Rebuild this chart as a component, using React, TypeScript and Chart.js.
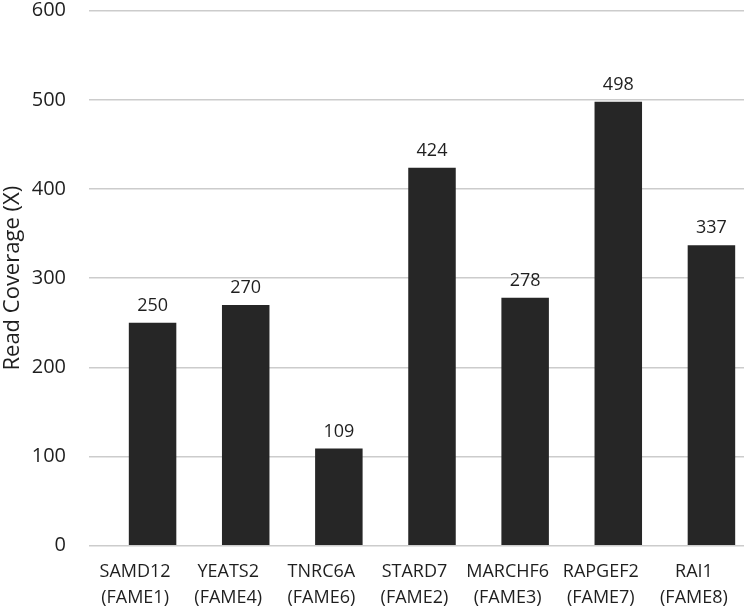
import React, { useEffect, useRef } from "react";
import { Chart, registerables } from "chart.js";

Chart.register(...registerables);

const genes = ["SAMD12", "YEATS2", "TNRC6A", "STARD7", "MARCHF6", "RAPGEF2", "RAI1"];
const fameIds = ["(FAME1)", "(FAME4)", "(FAME6)", "(FAME2)", "(FAME3)", "(FAME7)", "(FAME8)"];
const coverage = [250, 270, 109, 424, 278, 498, 337];
const yTicks = [0, 100, 200, 300, 400, 500, 600];

const FONT = "'Open Sans', 'DejaVu Sans', sans-serif";
const TEXT = "#1f1f1f";

const valueLabels = {
  id: "valueLabels",
  afterDatasetsDraw(chart: any) {
    const ctx = chart.ctx;
    const meta = chart.getDatasetMeta(0);
    ctx.save();
    ctx.font = `18px ${FONT}`;
    ctx.fillStyle = TEXT;
    ctx.textAlign = "center";
    ctx.textBaseline = "alphabetic";
    meta.data.forEach((bar: any, i: number) => {
      ctx.fillText(String(coverage[i]), bar.x, bar.y - 12);
    });
    ctx.restore();
  },
};

export default function App() {
  const ref = useRef<HTMLCanvasElement | null>(null);
  useEffect(() => {
    document.body.style.margin = "0";
    const canvas = ref.current!;
    const chart = new Chart(canvas, {
      type: "bar",
      data: {
        labels: genes.map((g, i) => [g, fameIds[i]]),
        datasets: [
          {
            data: coverage,
            backgroundColor: "#262626",
            borderWidth: 0,
            barPercentage: 0.51,
            categoryPercentage: 1,
          },
        ],
      },
      options: {
        responsive: false,
        animation: false,
        devicePixelRatio: 1,
        layout: { padding: { top: 10.7, right: 0, bottom: 0, left: 0 } },
        plugins: { legend: { display: false }, tooltip: { enabled: false } },
        scales: {
          x: {
            grid: { display: false, drawTicks: false },
            border: { display: false },
            ticks: {
              color: TEXT,
              font: { family: FONT, size: 18, lineHeight: 1.45 },
              padding: 13,
              labelOffset: -17.5,
              maxRotation: 0,
              autoSkip: false,
            },
            afterFit(scale: any) {
              scale.height = 63.3;
              scale.paddingLeft = 0;
              scale.paddingRight = 0;
            },
          },
          y: {
            min: 0,
            max: 600,
            afterBuildTicks(scale: any) {
              scale.ticks = yTicks.map((v) => ({ value: v }));
            },
            grid: { color: "#cccccc", lineWidth: 1.5, tickLength: 17, drawTicks: true },
            border: { display: false },
            ticks: {
              color: TEXT,
              font: { family: FONT, size: 20, lineHeight: 1 },
              padding: 23,
            },
            title: {
              display: true,
              text: "Read Coverage (X)",
              color: TEXT,
              font: { family: FONT, size: 22 },
              padding: { top: 0, bottom: 0 },
            },
            afterFit(scale: any) {
              scale.width = 106;
              scale.paddingTop = 0;
              scale.paddingBottom = 0;
            },
          },
        },
      },
      plugins: [valueLabels],
    });
    return () => chart.destroy();
  }, []);
  return (
    <div style={{ width: 744, height: 609, overflow: "hidden", position: "relative", background: "#fff" }}>
      <canvas ref={ref} width={758} height={609} style={{ display: "block", width: 758, height: 609 }} />
    </div>
  );
}
